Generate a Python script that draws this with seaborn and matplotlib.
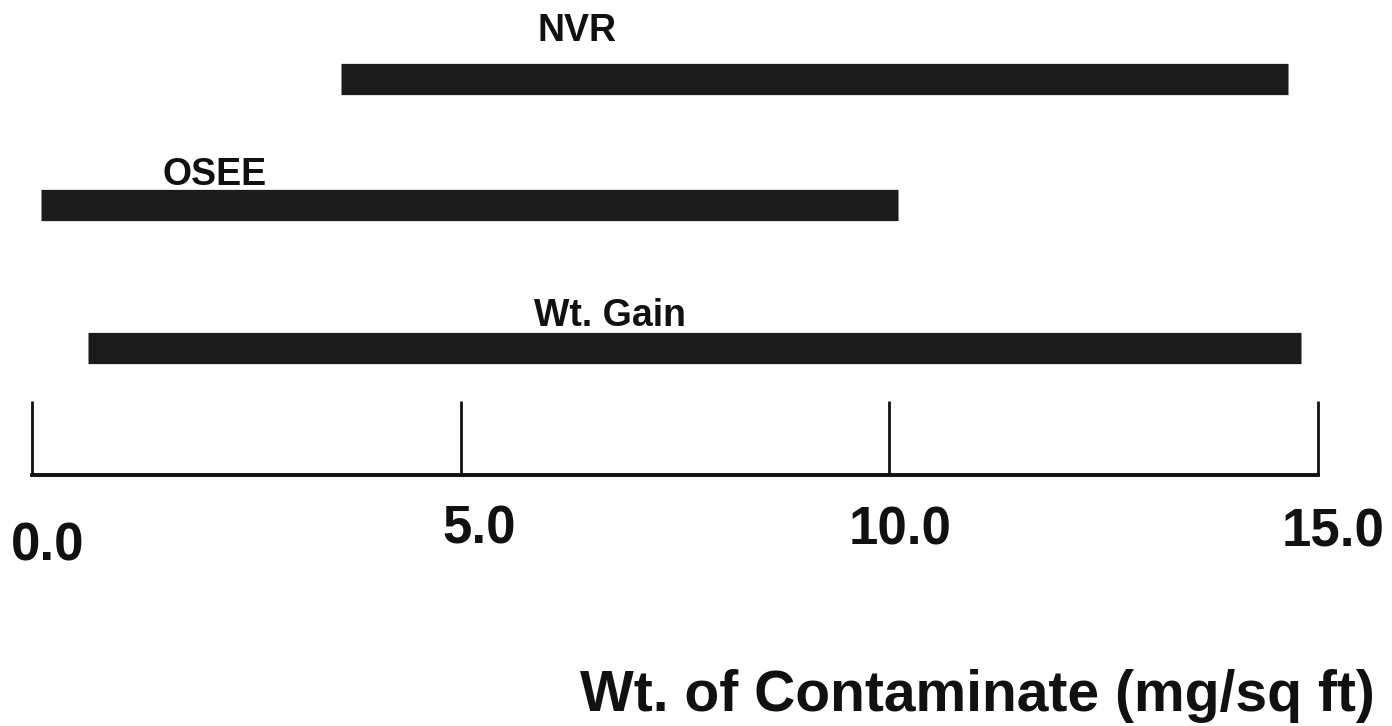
import matplotlib
matplotlib.use('Agg')
import matplotlib.pyplot as plt
import matplotlib.transforms as mtransforms
import pandas as pd
import seaborn as sns

# Data: range of each measurement method (mg/sq ft)
methods = ['NVR', 'OSEE', 'Wt. Gain']
range_start = [3.6, 0.1, 0.65]
range_end = [14.65, 10.1, 14.8]
tick_values = [0.0, 5.0, 10.0, 15.0]
tick_labels = ['0.0', '5.0', '10.0', '15.0']

sns.set_style('white')
plt.rcParams['font.family'] = ['Liberation Sans', 'DejaVu Sans']

# long format: one row per bar end
rows = [0.0, 1.0, 2.135]
df = pd.DataFrame({'method': methods, 'start': range_start, 'end': range_end, 'row': rows})
long = df.melt(id_vars=['method', 'row'], value_vars=['start', 'end'], value_name='x')

fig = plt.figure(figsize=(13.92, 7.26), dpi=100)
ax = fig.add_axes([0, 0.3457, 1, 0.6543])

sns.lineplot(data=long, x='x', y='row', units='method', estimator=None,
             color='#1b1b1b', linewidth=22.5, solid_capstyle='butt',
             legend=False, ax=ax)

ax.set_xlim(-0.373, 15.864)
ax.set_ylim(3.143, -0.627)
ax.set_ylabel('')

# labels above each bar
label_pos = {'NVR': (6.36, -0.381), 'OSEE': (2.13, 0.762), 'Wt. Gain': (6.74, 1.881)}
for m in methods:
    lx, ly = label_pos[m]
    ax.text(lx, ly, m, ha='center', va='center', fontsize=27, fontweight='bold',
            color='#111111')

# axis: bracket with upward ticks
for s in ['top', 'right', 'left']:
    ax.spines[s].set_visible(False)
ax.spines['bottom'].set_bounds(0, 15)
ax.spines['bottom'].set_linewidth(2.8)
ax.spines['bottom'].set_color('#111111')
ax.set_yticks([])
ax.set_xticks(tick_values)
ax.set_xticklabels(tick_labels)
ax.tick_params(axis='x', bottom=True, direction='in', length=53, width=2.0,
               color='#111111', pad=40, labelsize=38, labelcolor='#111111')

# scanned original: labels sit slightly right, 0.0 lower than the rest
offsets = [(16, -16), (19, 1), (11, 0), (15, -2)]
for lab, (dx, dy) in zip(ax.get_xticklabels(), offsets):
    lab.set_fontweight('bold')
    lab.set_verticalalignment('center')
    lab.set_transform(lab.get_transform() +
                      mtransforms.ScaledTranslation(dx / 100, dy / 100, fig.dpi_scale_trans))

ax.set_xlabel('Wt. of Contaminate (mg/sq ft)', fontsize=41, fontweight='bold',
              color='#111111', ha='right', va='center')
ax.xaxis.set_label_coords(0.988, -0.466)

fig.savefig('out.png', dpi=100, facecolor='white')
